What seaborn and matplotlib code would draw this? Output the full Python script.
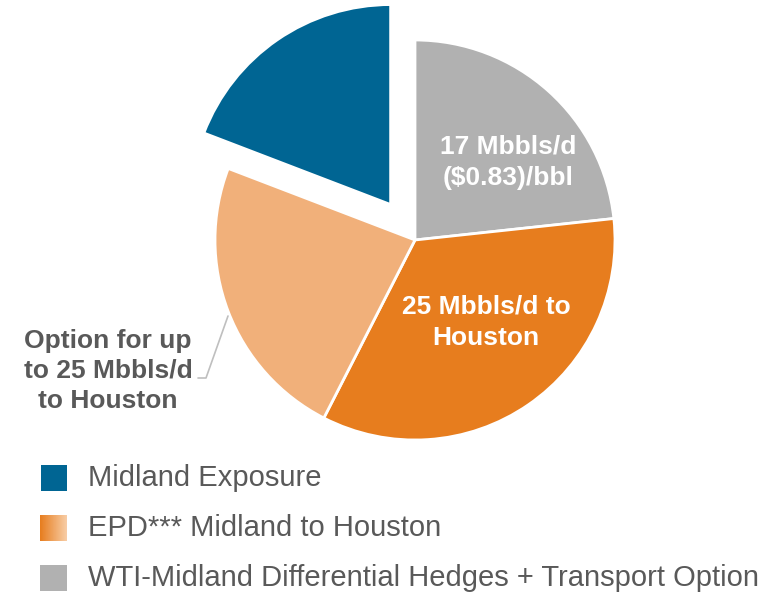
import numpy as np
import matplotlib
matplotlib.use("Agg")
import matplotlib.pyplot as plt
import seaborn as sns

# slice values (Mbbls/d), clockwise from 12 o'clock
slices = ["WTI-Midland Hedges", "EPD to Houston", "Option to Houston", "Midland Exposure"]
values = [17, 25, 17, 14]
colors = ["#B1B1B1", "#E77D1E", "#F1B07A", "#006593"]

legend_labels = ["Midland Exposure", "EPD*** Midland to Houston",
                 "WTI-Midland Differential Hedges + Transport Option"]

sns.set_style("white")
plt.rcParams['font.family'] = ['Liberation Sans', 'DejaVu Sans']

fig = plt.figure(figsize=(7.81, 5.95), dpi=100)
ax = fig.add_axes([0, 0, 1, 1])
ax.set_xlim(0, 781)
ax.set_ylim(0, 595)
ax.set_aspect('equal')
ax.axis('off')

# explode is in data units here (pixels), blue slice pulled out
ax.pie(values, colors=colors, explode=[0, 0, 0, 43], startangle=90, counterclock=False,
       center=(415, 355), radius=200,
       wedgeprops=dict(edgecolor='white', linewidth=2))

# slice labels
ax.text(508, 433, "17 Mbbls/d\n($0.83)/bbl", color='white', fontsize=19,
        fontweight='bold', ha='center', va='center', linespacing=1.38)
ax.text(486, 273, "25 Mbbls/d to\nHouston", color='white', fontsize=19,
        fontweight='bold', ha='center', va='center', linespacing=1.38)
ax.text(108, 224, "Option for up\nto 25 Mbbls/d\nto Houston", color='#595959',
        fontsize=19, fontweight='bold', ha='center', va='center', linespacing=1.3)
ax.plot([198, 206, 228], [217, 217, 279], color='#BFBFBF', lw=1.2)

# legend
sw = 26
ys = [117, 67, 17]
ax.add_patch(plt.Rectangle((41, ys[0] - sw / 2), sw, sw, color=colors[3], lw=0))
grad = np.linspace(0, 1, 100).reshape(1, -1)
cmap = matplotlib.colors.LinearSegmentedColormap.from_list("epd", ["#E77D1E", "#F8CDA6"])
ax.imshow(grad, cmap=cmap, aspect='auto',
          extent=(40, 40 + sw + 1, ys[1] - sw / 2, ys[1] + sw / 2), zorder=2)
ax.add_patch(plt.Rectangle((40, ys[2] - sw / 2), sw + 1, sw, color=colors[0], lw=0))
for y, lab in zip(ys, legend_labels):
    ax.text(88, y, lab, color='#595959', fontsize=21, ha='left', va='center')

ax.set_xlim(0, 781)
ax.set_ylim(0, 595)
fig.savefig("out.png", dpi=100)
